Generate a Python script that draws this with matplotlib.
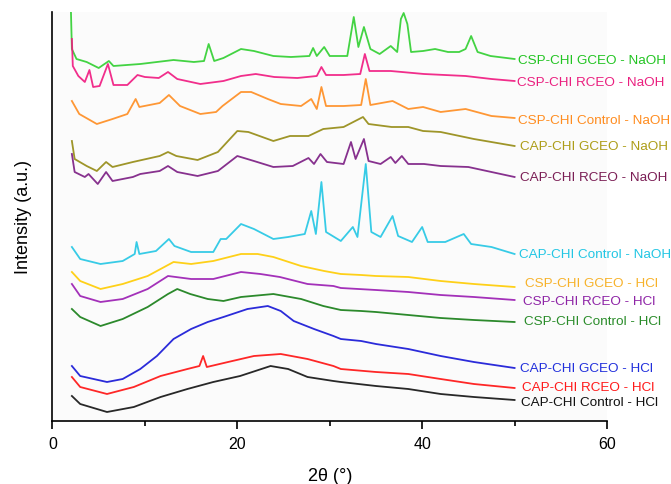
import numpy as np
import matplotlib
matplotlib.use("Agg")
import matplotlib.pyplot as plt
from matplotlib.ticker import MultipleLocator

plt.rcParams.update({
    "font.family": ["Liberation Sans", "DejaVu Sans"],
    "axes.linewidth": 1.2,
})

# --- data: 2theta (deg) and stacked intensity (a.u., offset included) ---
csp_gceo_naoh_x = [2.0, 2.1, 2.6, 3.7, 5.0, 6.1, 6.6, 9.5, 13.1, 15.3, 16.4, 16.9, 17.5, 18.5, 20.4, 21.8,
                   23.9, 25.8, 27.8, 28.2, 28.6, 29.4, 30.0, 31.9, 32.6, 33.1, 33.7, 34.4, 35.4, 36.6,
                   37.3, 37.7, 38.0, 38.4, 38.8, 40.1, 41.4, 42.8, 44.0, 44.7, 45.3, 46.0, 47.4, 50.0]
csp_gceo_naoh_y = [409, 372, 362, 359, 353, 360, 355, 357, 361, 359, 360, 377, 360, 363, 372, 370,
                   365, 364, 365, 373, 365, 374, 365, 365, 404, 374, 394, 372, 367, 375,
                   369, 402, 408, 397, 369, 370, 372, 369, 369, 372, 385, 369, 365, 362]

csp_rceo_naoh_x = [2.1, 2.2, 2.8, 3.5, 4.0, 4.4, 5.1, 6.0, 6.6, 8.1, 9.2, 10.0, 11.5, 12.5, 13.5, 16.0,
                   18.5, 20.4, 22.0, 24.0, 26.5, 28.6, 29.1, 29.6, 31.5, 33.3, 33.8, 34.3, 36.6, 40.2,
                   44.7, 47.5, 50.0]
csp_rceo_naoh_y = [382, 355, 345, 339, 351, 334, 335, 357, 336, 336, 346, 344, 343, 349, 342, 337,
                   340, 345, 347, 344, 343, 345, 354, 346, 346, 347, 367, 350, 350, 347,
                   345, 342, 340]

csp_ctrl_naoh_x = [2.1, 2.9, 4.8, 6.5, 8.1, 9.0, 9.4, 11.6, 12.6, 13.8, 16.0, 17.7, 18.4, 20.4, 21.5,
                   23.3, 24.7, 26.9, 28.0, 28.6, 29.1, 29.6, 31.5, 33.4, 33.9, 34.4, 36.8, 38.5, 40.1,
                   42.0, 44.7, 47.5, 50.0]
csp_ctrl_naoh_y = [320, 307, 297, 302, 307, 322, 314, 318, 326, 315, 307, 309, 315, 329, 329,
                   322, 317, 315, 322, 312, 334, 315, 315, 316, 342, 316, 320, 312, 314,
                   309, 312, 305, 303]

cap_gceo_naoh_x = [2.1, 2.4, 3.7, 4.8, 5.8, 6.5, 8.7, 11.6, 12.5, 13.4, 15.7, 17.9, 20.0, 21.2, 23.9,
                   25.7, 27.7, 29.3, 31.5, 33.6, 34.2, 36.7, 38.5, 40.1, 42.0, 45.6, 50.0]
cap_gceo_naoh_y = [280, 262, 255, 250, 259, 254, 259, 265, 269, 265, 261, 269, 290, 289, 280,
                   285, 285, 292, 294, 304, 297, 294, 294, 290, 289, 282, 275]

cap_rceo_naoh_x = [2.1, 2.4, 3.5, 3.9, 4.9, 5.8, 6.5, 8.7, 9.5, 11.6, 12.5, 13.5, 15.7, 17.9, 20.0,
                   21.8, 23.9, 26.0, 27.7, 28.3, 29.0, 29.7, 31.5, 32.3, 32.8, 33.7, 34.2, 35.5, 36.6,
                   37.1, 37.8, 38.5, 40.2, 42.0, 45.0, 47.5, 50.0]
cap_rceo_naoh_y = [267, 249, 244, 247, 237, 249, 240, 244, 247, 250, 255, 249, 245, 250, 265,
                   260, 254, 255, 263, 257, 267, 259, 257, 279, 262, 282, 260, 257, 264,
                   258, 265, 257, 257, 255, 254, 249, 244]

cap_ctrl_naoh_x = [2.1, 3.0, 5.2, 7.6, 8.9, 9.1, 9.4, 11.2, 12.6, 13.2, 15.0, 17.4, 18.2, 18.8, 20.4,
                   21.8, 23.9, 25.5, 27.3, 28.0, 28.5, 29.1, 29.6, 31.2, 32.5, 33.0, 33.9, 34.5, 35.5,
                   36.8, 37.4, 38.9, 40.0, 40.6, 42.5, 44.5, 45.3, 47.5, 50.0]
cap_ctrl_naoh_y = [174, 162, 157, 160, 167, 179, 167, 170, 182, 175, 169, 169, 182, 182, 197,
                   192, 182, 184, 187, 210, 187, 239, 189, 180, 194, 184, 257, 189, 184,
                   205, 185, 179, 194, 179, 179, 187, 177, 174, 167]

csp_gceo_hcl_x = [2.1, 3.0, 5.2, 7.6, 10.3, 13.1, 15.0, 17.4, 20.4, 22.2, 23.9, 26.9, 29.4, 31.2,
                  33.4, 35.0, 38.5, 42.0, 45.6, 50.0]
csp_gceo_hcl_y = [149, 140, 132, 137, 145, 159, 157, 160, 167, 167, 164, 155, 150, 147,
                  146, 145, 144, 140, 137, 134]

csp_rceo_hcl_x = [2.1, 3.0, 5.2, 7.6, 10.3, 12.5, 15.0, 17.4, 20.4, 22.5, 24.6, 27.6, 30.4, 31.2,
                  35.0, 38.5, 42.0, 45.6, 50.0]
csp_rceo_hcl_y = [137, 125, 119, 122, 132, 145, 142, 142, 149, 147, 144, 137, 135, 133,
                  131, 129, 126, 124, 121]

csp_ctrl_hcl_x = [2.1, 3.0, 5.2, 7.6, 10.3, 12.5, 13.5, 14.9, 16.8, 18.5, 20.4, 23.9, 26.9, 29.3,
                  31.2, 33.4, 35.0, 38.5, 42.0, 45.6, 50.0]
csp_ctrl_hcl_y = [112, 104, 95, 102, 114, 127, 132, 127, 122, 120, 124, 127, 122, 115,
                  111, 110, 109, 106, 103, 101, 99]

cap_gceo_hcl_x = [2.1, 3.0, 5.9, 7.6, 9.5, 11.3, 13.1, 15.0, 16.8, 18.5, 21.1, 23.3, 24.7, 26.1,
                  28.3, 30.4, 31.2, 33.4, 35.0, 38.5, 42.0, 45.6, 50.0]
cap_gceo_hcl_y = [55, 45, 39, 42, 52, 65, 82, 92, 99, 104, 112, 115, 110, 100,
                  92, 85, 82, 80, 77, 72, 65, 59, 53]

cap_rceo_hcl_x = [2.1, 3.0, 5.9, 8.8, 11.7, 14.6, 15.9, 16.3, 16.7, 19.0, 21.8, 24.7, 27.6, 30.4,
                  31.2, 35.0, 38.5, 42.0, 45.6, 50.0]
cap_rceo_hcl_y = [44, 34, 27, 34, 45, 52, 55, 65, 54, 59, 65, 67, 62, 55,
                  52, 49, 47, 42, 37, 33]

cap_ctrl_hcl_x = [2.1, 3.0, 5.9, 8.8, 11.7, 14.6, 17.4, 20.3, 23.6, 25.5, 27.6, 30.4, 31.2, 35.0,
                  38.5, 42.0, 45.6, 50.0]
cap_ctrl_hcl_y = [25, 17, 9, 14, 24, 32, 39, 45, 55, 52, 44, 40, 39, 35,
                  32, 27, 24, 21]

# label text, x position, y position (data units), line colour, text colour
series = [
    ("CSP-CHI GCEO - NaOH", csp_gceo_naoh_x, csp_gceo_naoh_y, 50.4, 361, "#2fcf2f", "#22c422"),
    ("CSP-CHI RCEO - NaOH", csp_rceo_naoh_x, csp_rceo_naoh_y, 50.3, 339, "#f0177f", "#ea1f7f"),
    ("CSP-CHI Control - NaOH", csp_ctrl_naoh_x, csp_ctrl_naoh_y, 50.4, 301, "#ff8c1f", "#ff8c1f"),
    ("CAP-CHI GCEO - NaOH", cap_gceo_naoh_x, cap_gceo_naoh_y, 50.6, 275, "#948a12", "#ad9d18"),
    ("CAP-CHI RCEO - NaOH", cap_rceo_naoh_x, cap_rceo_naoh_y, 50.6, 244, "#7a1b82", "#7b1e55"),
    ("CAP-CHI Control - NaOH", cap_ctrl_naoh_x, cap_ctrl_naoh_y, 50.5, 167, "#22c6e4", "#22c6e4"),
    ("CSP-CHI GCEO - HCl", csp_gceo_hcl_x, csp_gceo_hcl_y, 51.1, 138, "#ffcc00", "#f7b22a"),
    ("CSP-CHI RCEO - HCl", csp_rceo_hcl_x, csp_rceo_hcl_y, 50.9, 120, "#9a1bb2", "#8e24a6"),
    ("CSP-CHI Control - HCl", csp_ctrl_hcl_x, csp_ctrl_hcl_y, 51.0, 100, "#157d15", "#2a8c2a"),
    ("CAP-CHI GCEO - HCl", cap_gceo_hcl_x, cap_gceo_hcl_y, 50.6, 53, "#1414d6", "#2230dc"),
    ("CAP-CHI RCEO - HCl", cap_rceo_hcl_x, cap_rceo_hcl_y, 50.8, 34, "#ff1010", "#ff1a1a"),
    ("CAP-CHI Control - HCl", cap_ctrl_hcl_x, cap_ctrl_hcl_y, 50.7, 19, "#111111", "#111111"),
]

fig = plt.figure(figsize=(6.71, 4.85), dpi=100)
ax = fig.add_axes([0.0782, 0.1299, 0.8264, 0.8433])
ax.set_facecolor("#fbfbfb")

for name, xs, ys, lx, ly, lc, tc in series:
    ax.plot(xs, ys, color=lc, linewidth=1.3, alpha=0.9, solid_joinstyle="round")
    ax.text(lx, ly, name, color=tc, fontsize=9.7, ha="left", va="center", clip_on=False)

ax.set_xlim(0, 60)
ax.set_ylim(0, 409)
ax.xaxis.set_major_locator(MultipleLocator(20))
ax.xaxis.set_minor_locator(MultipleLocator(10))
ax.tick_params(axis="x", which="major", direction="out", length=6, width=1.2, labelsize=11.5, pad=5)
ax.tick_params(axis="x", which="minor", direction="out", length=3.5, width=1.2)
ax.set_yticks([])
for side in ("top", "right"):
    ax.spines[side].set_visible(False)

ax.set_xlabel("2θ (°)", fontsize=13, labelpad=11)
ax.set_ylabel("Intensity (a.u.)", fontsize=13, labelpad=15)

fig.savefig("out.png", dpi=100)
